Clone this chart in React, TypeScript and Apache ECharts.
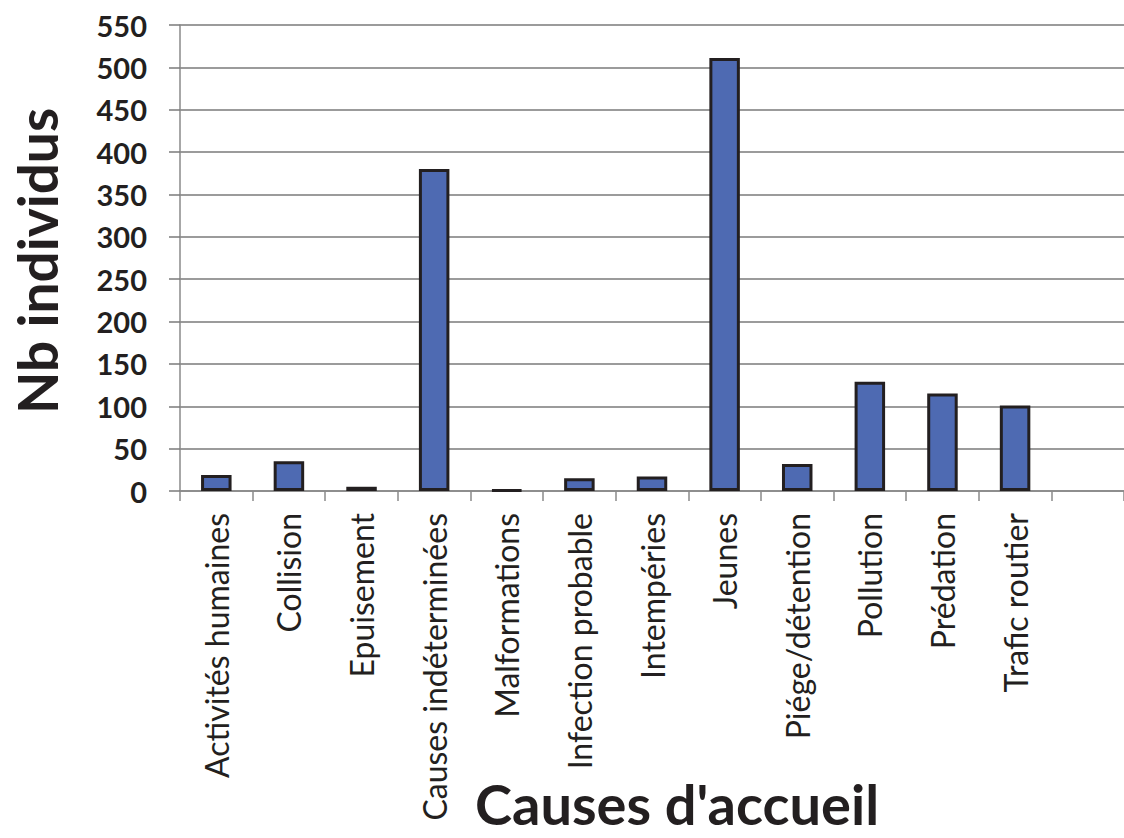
import React, { useEffect, useRef } from "react";
import * as echarts from "echarts";

const categories = [
  "Activités humaines",
  "Collision",
  "Epuisement",
  "Causes indéterminées",
  "Malformations",
  "Infection probable",
  "Intempéries",
  "Jeunes",
  "Piége/détention",
  "Pollution",
  "Prédation",
  "Trafic routier",
  "",
];
const values: (number | null)[] = [19, 35, 5, 380, 1, 15, 17, 511, 32, 129, 115, 101, null];
const yTicks = { min: 0, max: 550, interval: 50 };
const yTitle = "Nb individus";
const xTitle = "Causes d'accueil";

export default function App() {
  const ref = useRef<HTMLDivElement>(null);
  useEffect(() => {
    if (!ref.current) return;
    const chart = echarts.init(ref.current, null, { renderer: "svg" });
    chart.setOption({
      animation: false,
      backgroundColor: "#ffffff",
      grid: { left: 180, top: 25, width: 951, height: 466, containLabel: false },
      graphic: [
        {
          type: "text",
          x: 37,
          y: 261,
          rotation: Math.PI / 2,
          style: {
            text: yTitle,
            font: "bold 55px Lato",
            fill: "#231f20",
            align: "center",
            verticalAlign: "middle",
          },
        },
        {
          type: "text",
          x: 677,
          y: 803,
          style: {
            text: xTitle,
            font: "bold 56px Lato",
            fill: "#231f20",
            align: "center",
            verticalAlign: "middle",
          },
        },
      ],
      xAxis: {
        type: "category",
        data: categories,
        boundaryGap: true,
        axisLine: { show: true, lineStyle: { color: "#8a8a8a", width: 1.5 } },
        axisTick: { show: true, length: 10, lineStyle: { color: "#8a8a8a", width: 1.5 } },
        axisLabel: {
          rotate: 90,
          interval: 0,
          margin: 22,
          fontFamily: "Lato",
          fontSize: 32,
          color: "#231f20",
        },
      },
      yAxis: {
        type: "value",
        min: yTicks.min,
        max: yTicks.max,
        interval: yTicks.interval,
        axisLine: { show: true, lineStyle: { color: "#8a8a8a", width: 1.5 } },
        axisTick: { show: true, length: 11, lineStyle: { color: "#7a7a7a", width: 1.5 } },
        splitLine: { show: true, lineStyle: { color: "#7a7a7a", width: 1.5 } },
        axisLabel: {
          margin: 33,
          fontFamily: "Lato",
          fontWeight: "bold",
          fontSize: 29,
          color: "#231f20",
        },
      },
      series: [
        {
          type: "bar",
          data: values,
          barWidth: "42%",
          itemStyle: { color: "#4e6ab2", borderColor: "#231f20", borderWidth: 3 },
        },
      ],
    });
    return () => chart.dispose();
  }, []);
  return (
    <div
      ref={ref}
      style={{ position: "fixed", left: 0, top: 0, width: 1124, height: 838 }}
    />
  );
}
